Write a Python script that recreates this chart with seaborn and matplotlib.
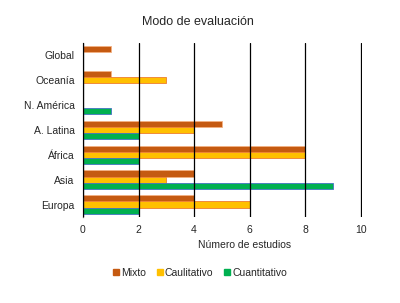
import matplotlib
matplotlib.use("Agg")
import matplotlib.pyplot as plt
import seaborn as sns
import pandas as pd
from matplotlib.patches import Patch

regions = ["Global", "Oceanía", "N. América", "A. Latina", "África", "Asia", "Europa"]
mixto = [1, 1, 0, 5, 8, 4, 4]
caulitativo = [0, 3, 0, 4, 8, 3, 6]
cuantitativo = [0, 0, 1, 2, 2, 9, 2]
series = ["Mixto", "Caulitativo", "Cuantitativo"]
colors = ["#C55A11", "#FFC000", "#00B050"]
edges = ["#F4B183", "#ED7D31", "#4472C4"]

rows = []
for s, vals in zip(series, [mixto, caulitativo, cuantitativo]):
    for r, v in zip(regions, vals):
        rows.append({"Región": r, "Serie": s, "Valor": v})
df = pd.DataFrame(rows)

sns.set_style("white")
plt.rcParams["font.family"] = ["Liberation Sans", "DejaVu Sans"]

fig = plt.figure(figsize=(4, 3.03), dpi=100)
ax = fig.add_axes([0.2075, 0.284, 0.6975, 0.574])
sns.barplot(data=df, y="Región", x="Valor", hue="Serie", order=regions,
            hue_order=series, palette=colors, orient="h", width=0.75,
            ax=ax, legend=False, saturation=1)

for i, cont in enumerate(ax.containers):
    for p in cont:
        p.set_edgecolor(edges[i])
        p.set_linewidth(0.6)

ax.set_xlim(0, 10.05)
ax.set_ylim(6.5, -0.5)
ax.set_xticks([0, 2, 4, 6, 8, 10])
ax.xaxis.grid(True, color="black", linewidth=0.9)
ax.set_axisbelow(False)
for sp in ["top", "right", "bottom"]:
    ax.spines[sp].set_visible(False)
ax.spines["left"].set_color("#595959")
ax.spines["left"].set_linewidth(0.9)
ax.tick_params(axis="both", length=0, labelsize=7.5, colors="#262626", pad=6)
ax.set_ylabel("")
ax.set_xlabel("Número de estudios", fontsize=7.5, color="#262626")
ax.xaxis.set_label_coords(0.58, -0.13)
fig.text(0.495, 0.927, "Modo de evaluación", fontsize=9, ha="center", va="center",
         color="#262626")

handles = [Patch(facecolor=c, edgecolor=c) for c in colors]
fig.legend(handles, series, loc="center", bbox_to_anchor=(0.5, 0.1), ncol=3,
           frameon=False, fontsize=7.5, handlelength=0.6, handleheight=0.6,
           handletextpad=0.2, columnspacing=1.0, labelcolor="#262626")

fig.savefig("out.png", dpi=100)
